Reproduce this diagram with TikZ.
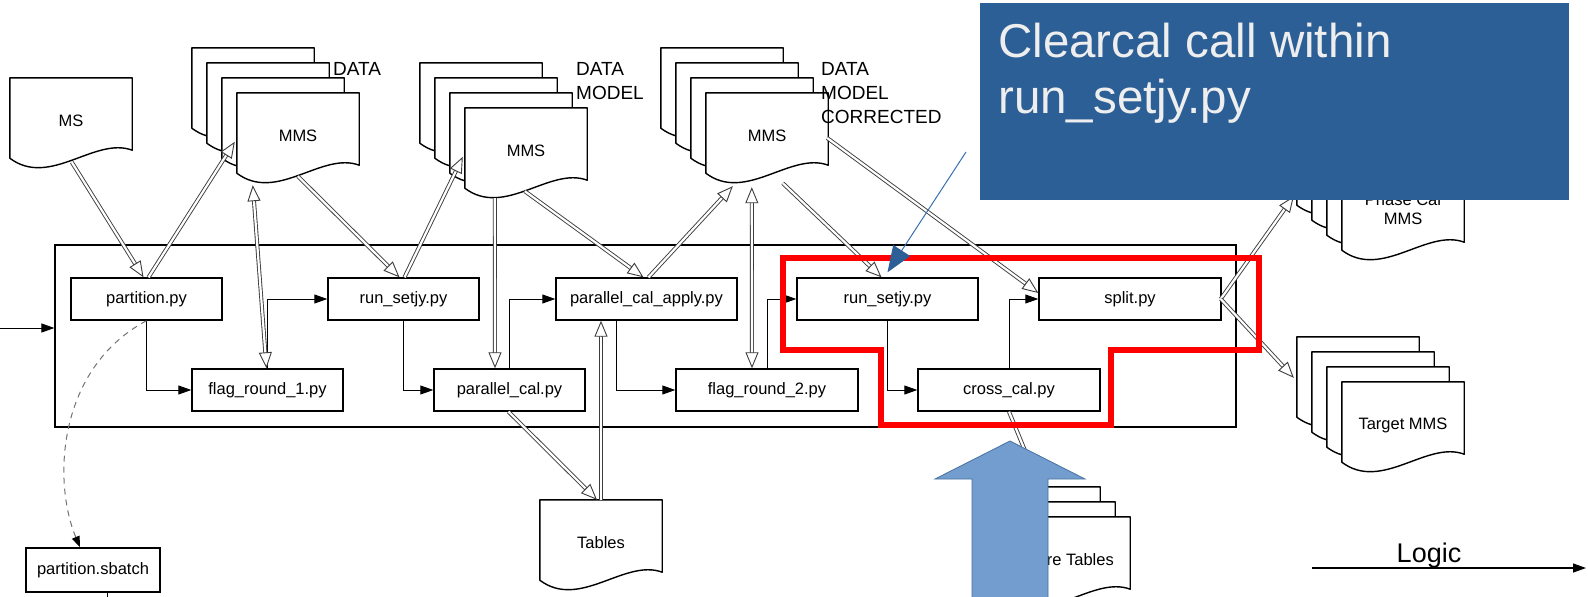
\documentclass[tikz,border=0pt]{standalone}
\usepackage{fontspec}
\setmainfont{Liberation Sans}
\usetikzlibrary{arrows.meta,calc}
\definecolor{callblue}{RGB}{45,95,151}
\definecolor{bigblue}{RGB}{114,157,206}
\definecolor{bigblueline}{RGB}{70,114,160}
\definecolor{thinblue}{RGB}{58,112,176}
\definecolor{txtwhite}{RGB}{238,238,238}
\definecolor{dblgray}{RGB}{60,60,60}
\newcommand\boxfont{\fontsize{16.5}{19}\selectfont}
\newcommand\lblfont{\fontsize{19}{24}\selectfont}
\newcommand\callfont{\fontsize{47.5}{56}\selectfont}
\tikzset{
 proc/.style={draw, line width=1.4pt, fill=white, minimum height=42pt, inner sep=0pt, font=\boxfont},
 docbox/.style={minimum width=122pt, minimum height=80pt, inner sep=0pt},
 docline/.style={draw=black, fill=white, line width=1.4pt, line join=round},
 doctext/.style={font=\boxfont, align=center, inner sep=0pt},
 blk/.style={line width=1pt, -{Triangle[length=13pt,width=9pt]}},
 dblline/.style={draw=dblgray, line width=0.9pt, double=white, double distance=2.2pt},
 dbltip/.style={draw=dblgray, line width=0.9pt, -{Triangle[length=16pt,width=13pt,fill=white]}},
 lbl/.style={font=\lblfont, align=left, anchor=north west, inner sep=0pt},
}
\newcommand\sheet[3]{%
  \node[docbox] (#1) at ({#2+61},{#3+40}) {};
  \path[docline] (#1.north west) -- (#1.north east) -- ($(#1.south east)+(0,-8)$)
    .. controls ($(#1.south west)+(85,-22)$) and ($(#1.south west)+(40,30)$) .. (#1.south west) -- cycle;}
\newcommand\doc[4]{\sheet{#1}{#2}{#3}\node[doctext] (#1-t) at ($(#1.center)+(0,3)$) {#4};}
\newcommand\dbl[2]{\draw[dblline] (#1) -- ($(#2)!15pt!(#1)$); \draw[dbltip] ($(#2)!16pt!(#1)$) -- (#2);}
\newcommand\dblboth[2]{\draw[dblline] ($(#1)!15pt!(#2)$) -- ($(#2)!15pt!(#1)$);
  \draw[dbltip] ($(#2)!16pt!(#1)$) -- (#2); \draw[dbltip] ($(#1)!16pt!(#2)$) -- (#1);}
\begin{document}
\begin{tikzpicture}[x=1pt,y=-1pt]
\useasboundingbox[fill=white] (0,0) rectangle (1588,597);
% documents
\doc{ms}{10}{78}{MS}
\sheet{dAa}{192}{48}\sheet{dAb}{207}{63}\sheet{dAc}{222}{78}\doc{dA}{237}{93}{MMS}
\sheet{dMa}{420}{63}\sheet{dMb}{435}{78}\sheet{dMc}{450}{93}\doc{dM}{465}{108}{MMS}
\sheet{dCa}{661}{48}\sheet{dCb}{676}{63}\sheet{dCc}{691}{78}\doc{dC}{706}{93}{MMS}
\sheet{pha}{1297}{125}\sheet{phb}{1312}{140}\sheet{phc}{1327}{155}\sheet{ph}{1342}{170}
\node[doctext] (ph-t) at ($(ph.center)+(0,-1)$) {Phase Cal\\MMS};
\sheet{tga}{1297}{337}\sheet{tgb}{1312}{352}\sheet{tgc}{1327}{367}\doc{tg}{1342}{382}{Target MMS}
\doc{tb}{540}{500}{Tables}
\sheet{fta}{978}{487}\sheet{ftb}{993}{502}\sheet{ft}{1008}{517}
\node[doctext, anchor=base east] (ft-t) at (1114,565) {Failure Tables};
% labels
\node[lbl] (lA) at (333,62) {DATA};
\node[lbl] (lM) at (576,62) {DATA\\MODEL};
\node[lbl] (lC) at (821,62) {DATA\\MODEL\\CORRECTED};
% container and processes
\node[draw, line width=1.2pt, minimum width=1181pt, minimum height=182pt, inner sep=0pt] (cont) at (645.5,336) {};
\node[proc, minimum width=151pt] (part) at (146.5,299) {partition.py};
\node[proc, minimum width=151pt] (fr1) at (267.5,390) {flag\_round\_1.py};
\node[proc, minimum width=151pt] (rs1) at (403.5,299) {run\_setjy.py};
\node[proc, minimum width=151pt] (pc) at (509.5,390) {parallel\_cal.py};
\node[proc, minimum width=181pt] (pca) at (646.5,299) {parallel\_cal\_apply.py};
\node[proc, minimum width=182pt] (fr2) at (767,390) {flag\_round\_2.py};
\node[proc, minimum width=181pt] (rs2) at (887.5,299) {run\_setjy.py};
\node[proc, minimum width=182pt] (cc) at (1009,390) {cross\_cal.py};
\node[proc, minimum width=182pt] (split) at (1130,299) {split.py};
\node[proc, minimum width=134pt, minimum height=44pt] (sbatch) at (93,570) {partition.sbatch};
% black connectors
\coordinate (in0) at (0,328);
\draw[blk] (in0) -- (in0 -| cont.west);
\draw[blk] (part.south) |- (fr1.west);
\draw[blk] (fr1.north) |- (rs1.west);
\draw[blk] (rs1.south) |- (pc.west);
\draw[blk] (pc.north) |- (pca.west);
\draw[blk] ([xshift=-30.5pt]pca.south) |- (fr2.west);
\draw[blk] (fr2.north) |- (rs2.west);
\draw[blk] (rs2.south) |- (cc.west);
\draw[blk] (cc.north) |- (split.west);
\draw[draw=black!55, line width=1pt, dash pattern=on 6pt off 5pt, -{Triangle[length=11pt,width=8pt,color=black]}]
  (part.south) .. controls (58,368) and (52,480) .. ([xshift=-13pt]sbatch.north);
\draw[line width=1pt] ([xshift=14pt]sbatch.south) -- +(0,8);
% double connectors
\coordinate (a1s) at ($(ms.south west)+(62,4)$);
\coordinate (a1e) at ([xshift=-3pt]part.north);
\coordinate (a2s) at ([xshift=2pt]part.north);
\coordinate (a2e) at ($(dA.north west)+(-2,49)$);
\coordinate (a3s) at ($(dA.south west)+(61,3)$);
\coordinate (a3e) at ([xshift=-4pt]rs1.north);
\coordinate (a4s) at ([xshift=1pt]rs1.north);
\coordinate (a4e) at ($(dM.north west)+(-2,49)$);
\coordinate (a5s) at ($(dA.south west)+(16,12)$);
\coordinate (a5e) at ([xshift=-1pt]fr1.north);
\coordinate (a6s) at ($(dM.south west)+(30,10)$);
\coordinate (a6e) at ([xshift=-14.5pt]pc.north);
\coordinate (a7s) at ($(dM.south west)+(60,3)$);
\coordinate (a7e) at ([xshift=-3pt]pca.north);
\coordinate (a8s) at ([xshift=2pt]pca.north);
\coordinate (a8e) at ($(dC.south west)+(27,13)$);
\coordinate (a9s) at ($(dC.south west)+(46,14)$);
\coordinate (a9e) at ([xshift=-15pt]fr2.north);
\coordinate (a10s) at ($(dC.south west)+(77,10)$);
\coordinate (a10e) at ([xshift=-6pt]rs2.north);
\coordinate (a11s) at ($(dC.east)+(-1,5)$);
\coordinate (a11e) at ([yshift=6pt]split.west);
\coordinate (a12s) at ([xshift=-1pt]split.east);
\coordinate (a12e) at ($(pha.south west)+(-3,-9)$);
\coordinate (a13e) at ($(tga.north west)+(-3,41)$);
\coordinate (a14s) at ([xshift=-1pt]pc.south);
\coordinate (a14e) at ([xshift=-4pt]tb.north);
\coordinate (a15s) at (tb.north);
\coordinate (a15e) at ([xshift=-45.5pt]pca.south);
\coordinate (a16s) at (cc.south);
\coordinate (a16e) at ($(fta.north west)+(62,0)$);
\dbl{a1s}{a1e}
\dbl{a2s}{a2e}
\dbl{a3s}{a3e}
\dbl{a4s}{a4e}
\dblboth{a5s}{a5e}
\dbl{a6s}{a6e}
\dbl{a7s}{a7e}
\dbl{a8s}{a8e}
\dblboth{a9s}{a9e}
\dbl{a10s}{a10e}
\dbl{a11s}{a11e}
\dbl{a12s}{a12e}
\dbl{a12s}{a13e}
\dbl{a14s}{a14e}
\dbl{a15s}{a15e}
\dbl{a16s}{a16e}
% red highlight
\draw[red, line width=6pt, line join=miter] (783,258) -- (1259,258) -- (1259,350) -- (1111,350)
  -- (1111,425) -- (881,425) -- (881,350) -- (783,350) -- cycle;
% callout
\node[fill=callblue, minimum width=589pt, minimum height=197pt, inner sep=0pt, anchor=north west] (callout) at (980,3) {};
\node[anchor=base west, font=\callfont, text=txtwhite, inner sep=0pt] (ct1) at (998,57) {Clearcal call within};
\node[anchor=base west, font=\callfont, text=txtwhite, inner sep=0pt] (ct2) at (998,113) {run\_setjy.py};
\coordinate (cs) at (966,152);
\draw[thinblue, line width=1pt, -{Triangle[length=26pt,width=20pt,color=callblue]}] (cs) -- ([yshift=5pt]rs2.north);
% big blue arrow
\filldraw[fill=bigblue, draw=bigblueline, line width=0.8pt] (972,602) -- (972,479) -- (935,479) -- (1010,441)
  -- (1085,479) -- (1048,479) -- (1048,602) -- cycle;
% logic legend
\node[font=\fontsize{27}{30}\selectfont, anchor=base, inner sep=0pt] (logic) at (1429,562) {Logic};
\coordinate (lg1) at (1312,568);
\coordinate (lg2) at (1586,568);
\draw[line width=1.2pt, -{Triangle[length=13pt,width=9pt]}] (lg1) -- (lg2);
\end{tikzpicture}
\end{document}
